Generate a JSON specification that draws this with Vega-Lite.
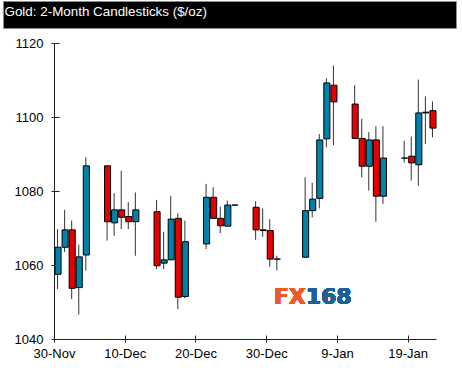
{
  "$schema": "https://vega.github.io/schema/vega-lite/v6.json",
  "padding": {"left": 2, "top": 0, "right": 0, "bottom": 0},
  "spacing": 8,
  "background": "white",
  "config": {"view": {"stroke": null}, "font": "Liberation Sans"},
  "datasets": {
    "gold": [
      {"date": "2015-11-30", "open": 1057.5, "high": 1069.7, "low": 1053.5, "close": 1064.8},
      {"date": "2015-12-01", "open": 1064.8, "high": 1074.9, "low": 1063.5, "close": 1069.5},
      {"date": "2015-12-02", "open": 1069.5, "high": 1072.0, "low": 1050.8, "close": 1053.7},
      {"date": "2015-12-03", "open": 1053.9, "high": 1065.5, "low": 1046.6, "close": 1062.2},
      {"date": "2015-12-04", "open": 1062.7, "high": 1089.1, "low": 1058.5, "close": 1086.8},
      {"date": "2015-12-07", "open": 1086.8, "high": 1086.8, "low": 1066.6, "close": 1071.7},
      {"date": "2015-12-08", "open": 1071.4, "high": 1079.4, "low": 1067.9, "close": 1074.9},
      {"date": "2015-12-09", "open": 1074.9, "high": 1085.5, "low": 1069.7, "close": 1072.9},
      {"date": "2015-12-10", "open": 1073.1, "high": 1077.0, "low": 1069.7, "close": 1071.7},
      {"date": "2015-12-11", "open": 1071.7, "high": 1079.6, "low": 1062.5, "close": 1074.9},
      {"date": "2015-12-14", "open": 1074.4, "high": 1077.6, "low": 1058.9, "close": 1059.8},
      {"date": "2015-12-15", "open": 1060.5, "high": 1069.0, "low": 1058.9, "close": 1061.4},
      {"date": "2015-12-16", "open": 1061.4, "high": 1078.6, "low": 1061.4, "close": 1072.4},
      {"date": "2015-12-17", "open": 1072.6, "high": 1074.0, "low": 1048.1, "close": 1051.3},
      {"date": "2015-12-18", "open": 1051.5, "high": 1072.0, "low": 1051.0, "close": 1066.3},
      {"date": "2015-12-21", "open": 1065.7, "high": 1081.9, "low": 1064.3, "close": 1078.3},
      {"date": "2015-12-22", "open": 1078.3, "high": 1081.0, "low": 1072.6, "close": 1072.6},
      {"date": "2015-12-23", "open": 1072.6, "high": 1075.8, "low": 1068.6, "close": 1070.6},
      {"date": "2015-12-24", "open": 1070.5, "high": 1077.4, "low": 1070.5, "close": 1076.2},
      {"date": "2015-12-25", "open": 1076.2, "high": 1076.2, "low": 1076.2, "close": 1076.2},
      {"date": "2015-12-28", "open": 1075.6, "high": 1077.2, "low": 1066.8, "close": 1069.5},
      {"date": "2015-12-29", "open": 1069.5, "high": 1075.3, "low": 1067.6, "close": 1069.3},
      {"date": "2015-12-30", "open": 1069.3, "high": 1072.4, "low": 1059.5, "close": 1061.6},
      {"date": "2015-12-31", "open": 1061.6, "high": 1062.5, "low": 1058.5, "close": 1061.6},
      {"date": "2016-01-04", "open": 1062.1, "high": 1083.7, "low": 1062.1, "close": 1074.7},
      {"date": "2016-01-05", "open": 1074.7, "high": 1082.2, "low": 1072.9, "close": 1077.8},
      {"date": "2016-01-06", "open": 1078.0, "high": 1095.4, "low": 1075.3, "close": 1093.8},
      {"date": "2016-01-07", "open": 1094.1, "high": 1110.5, "low": 1091.8, "close": 1109.2},
      {"date": "2016-01-08", "open": 1108.6, "high": 1113.9, "low": 1092.4, "close": 1104.1},
      {"date": "2016-01-11", "open": 1103.5, "high": 1108.6, "low": 1094.2, "close": 1094.2},
      {"date": "2016-01-12", "open": 1094.2, "high": 1099.5, "low": 1083.7, "close": 1086.7},
      {"date": "2016-01-13", "open": 1086.7, "high": 1095.9, "low": 1080.1, "close": 1093.8},
      {"date": "2016-01-14", "open": 1093.8, "high": 1097.5, "low": 1071.7, "close": 1078.6},
      {"date": "2016-01-15", "open": 1078.6, "high": 1097.5, "low": 1076.5, "close": 1088.9},
      {"date": "2016-01-18", "open": 1088.9, "high": 1093.6, "low": 1087.7, "close": 1088.9},
      {"date": "2016-01-19", "open": 1089.4, "high": 1094.7, "low": 1082.8, "close": 1087.6},
      {"date": "2016-01-20", "open": 1087.1, "high": 1110.1, "low": 1081.4, "close": 1101.1},
      {"date": "2016-01-21", "open": 1101.1, "high": 1105.6, "low": 1092.7, "close": 1101.3},
      {"date": "2016-01-22", "open": 1101.7, "high": 1104.2, "low": 1094.5, "close": 1097.0}
    ]
  },
  "vconcat": [
    {
      "width": 453,
      "height": 27,
      "view": {"fill": "black", "stroke": "#8c8c8c", "strokeWidth": 1},
      "data": {"values": [{"label": "Gold: 2-Month Candlesticks ($/oz)"}]},
      "mark": {"type": "text", "align": "left", "baseline": "alphabetic", "dx": 1.5, "dy": 1.5, "color": "white", "font": "Liberation Sans", "fontSize": 13.4},
      "encoding": {
        "x": {"datum": 0, "type": "quantitative", "scale": {"domain": [0, 1]}, "axis": null},
        "text": {"field": "label"}
      }
    },
    {
      "width": 433,
      "height": 296,
      "data": {"name": "gold"},
      "resolve": {"axis": {"x": "independent", "y": "independent"}},
      "layer": [
        {
          "mark": {"type": "text", "font": "DejaVu Sans", "fontWeight": "bold", "fontSize": 22, "color": "#ee5a24", "align": "right", "baseline": "middle"},
          "encoding": {
            "x": {"datum": {"year": 2016, "month": "jan", "date": 4, "hours": 14, "utc": true}, "type": "temporal", "axis": null},
            "y": {"datum": 1051.3, "type": "quantitative", "axis": null},
            "text": {"value": "FX"}
          }
        },
        {
          "mark": {"type": "text", "font": "DejaVu Sans", "fontWeight": "bold", "fontSize": 22, "color": "#1f5f94", "align": "left", "baseline": "middle"},
          "encoding": {
            "x": {"datum": {"year": 2016, "month": "jan", "date": 4, "hours": 14, "utc": true}, "type": "temporal", "axis": null},
            "y": {"datum": 1051.3, "type": "quantitative", "axis": null},
            "text": {"value": "168"}
          }
        },
        {
          "mark": {"type": "rule", "color": "#333333", "strokeWidth": 1},
          "encoding": {
            "x": {
              "field": "date", "timeUnit": "utcyearmonthdate", "type": "temporal", "bandPosition": 0.5,
              "scale": {"domain": [{"year": 2015, "month": "nov", "date": 30, "utc": true}, {"year": 2016, "month": "jan", "date": 23, "utc": true}], "range": [51, 433]},
              "axis": {
                "orient": "bottom", "title": null,
                "labelExpr": "utcFormat(datum.value, '%-d-%b')",
                "values": [
                  {"year": 2015, "month": "nov", "date": 30, "utc": true},
                  {"year": 2015, "month": "dec", "date": 10, "utc": true},
                  {"year": 2015, "month": "dec", "date": 20, "utc": true},
                  {"year": 2015, "month": "dec", "date": 30, "utc": true},
                  {"year": 2016, "month": "jan", "date": 9, "utc": true},
                  {"year": 2016, "month": "jan", "date": 19, "utc": true}
                ],
                "grid": false, "tickSize": 3, "labelPadding": 5, "labelFontSize": 13, "labelColor": "black",
                "domainColor": "#222222", "tickColor": "#222222", "labelFont": "Liberation Sans", "labelFlush": false, "labelOverlap": false
              }
            },
            "y": {
              "field": "low", "type": "quantitative",
              "scale": {"domain": [1040, 1120], "zero": false, "nice": false},
              "axis": {
                "orient": "left", "title": null, "offset": -51, "values": [1040, 1060, 1080, 1100, 1120], "format": "d",
                "grid": false, "tickSize": 3, "labelPadding": 8, "labelFontSize": 13, "labelColor": "black",
                "domainColor": "#222222", "tickColor": "#222222", "labelFont": "Liberation Sans", "minExtent": 0
              }
            },
            "y2": {"field": "high"}
          }
        },
        {
          "mark": {"type": "bar", "stroke": "black", "strokeWidth": 1},
          "encoding": {
            "x": {
              "field": "date", "timeUnit": "utcyearmonthdate", "type": "temporal",
              "axis": {
                "orient": "bottom", "title": null, "labels": false, "domain": false, "grid": false, "tickSize": -4, "tickColor": "#222222",
                "values": [
                  {"year": 2015, "month": "nov", "date": 30, "utc": true},
                  {"year": 2015, "month": "dec", "date": 10, "utc": true},
                  {"year": 2015, "month": "dec", "date": 20, "utc": true},
                  {"year": 2015, "month": "dec", "date": 30, "utc": true},
                  {"year": 2016, "month": "jan", "date": 9, "utc": true},
                  {"year": 2016, "month": "jan", "date": 19, "utc": true}
                ]
              }
            },
            "y": {
              "field": "open", "type": "quantitative",
              "axis": {"orient": "left", "title": null, "offset": -51, "labels": false, "domain": false, "grid": false, "tickSize": -5, "tickColor": "#222222", "values": [1040, 1060, 1080, 1100, 1120], "minExtent": 0}
            },
            "y2": {"field": "close"},
            "fill": {
              "condition": {"test": "datum.open > datum.close", "value": "#e60000"},
              "value": "#0083ab"
            }
          }
        }
      ]
    }
  ]
}
